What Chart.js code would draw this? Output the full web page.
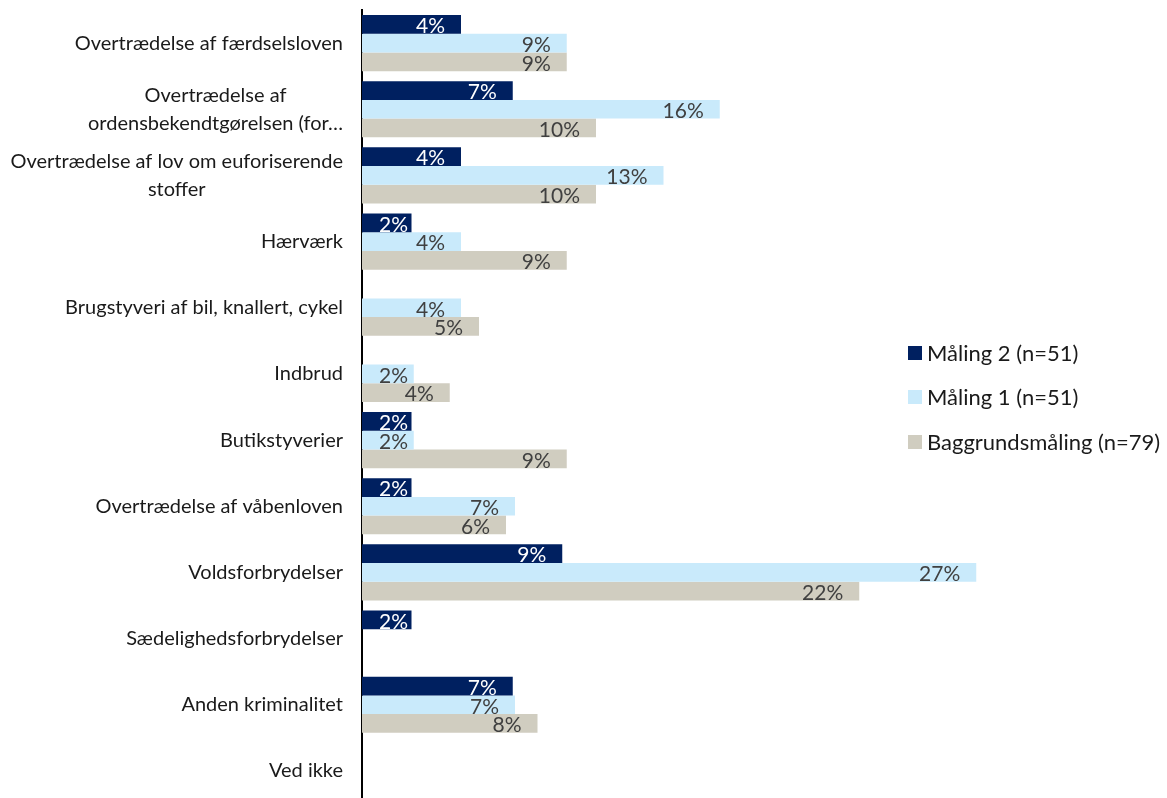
<!DOCTYPE html>
<html lang="da">
<head>
<meta charset="utf-8">
<title>Kriminalitet</title>
<script src="https://cdn.jsdelivr.net/npm/chart.js@4/dist/chart.umd.min.js"></script>
<style>
  html, body { margin: 0; padding: 0; background: #fff; overflow: hidden; }
  #wrap { position: relative; width: 1167px; height: 804px; }
</style>
</head>
<body>
<div id="wrap"><canvas id="chart"></canvas></div>
<script>
const categories = [
    ['Overtrædelse af færdselsloven'],
    ['Overtrædelse af', 'ordensbekendtgørelsen (for…'],
    ['Overtrædelse af lov om euforiserende', 'stoffer'],
    ['Hærværk'],
    ['Brugstyveri af bil, knallert, cykel'],
    ['Indbrud'],
    ['Butikstyverier'],
    ['Overtrædelse af våbenloven'],
    ['Voldsforbrydelser'],
    ['Sædelighedsforbrydelser'],
    ['Anden kriminalitet'],
    ['Ved ikke']
];

const seriesNames = ['Måling 2 (n=51)', 'Måling 1 (n=51)', 'Baggrundsmåling (n=79)'];
const seriesColors = ['#002060', '#C9EAFB', '#D0CDC0'];
const labelColors = ['#ffffff', '#404040', '#404040'];

const maaling2 = [4.4, 6.7, 4.4, 2.2, 0, 0, 2.2, 2.2, 8.9, 2.2, 6.7, 0];
const maaling1 = [9.1, 15.9, 13.4, 4.4, 4.4, 2.3, 2.3, 6.8, 27.3, 0, 6.8, 0];
const baggrund = [9.1, 10.4, 10.4, 9.1, 5.2, 3.9, 9.1, 6.4, 22.1, 0, 7.8, 0];

const FONT = 'Lato, "Liberation Sans", sans-serif';

// category names, drawn right-aligned as a block with centred lines
const categoryLabels = {
    id: 'categoryLabels',
    afterDraw(chart) {
        const { ctx } = chart;
        const y = chart.scales.y;
        const right = y.right - 19;
        const lineH = 28;
        ctx.save();
        ctx.font = `20px ${FONT}`;
        ctx.fillStyle = '#1a1a1a';
        ctx.textAlign = 'center';
        ctx.textBaseline = 'middle';
        chart.data.labels.forEach((lines, i) => {
            const cy = y.getPixelForValue(i);
            const w = Math.max(...lines.map(l => ctx.measureText(l).width));
            const cx = right - w / 2;
            const y0 = cy - (lines.length - 1) * lineH / 2;
            lines.forEach((l, k) => ctx.fillText(l, cx, y0 + k * lineH));
        });
        ctx.restore();
    }
};

// percent labels inside the end of each bar
const valueLabels = {
    id: 'valueLabels',
    afterDatasetsDraw(chart) {
        const { ctx } = chart;
        ctx.save();
        ctx.font = `21px ${FONT}`;
        ctx.textAlign = 'right';
        ctx.textBaseline = 'middle';
        chart.data.datasets.forEach((ds, di) => {
            const meta = chart.getDatasetMeta(di);
            ctx.fillStyle = labelColors[di];
            meta.data.forEach((bar, i) => {
                const v = ds.data[i];
                if (!v) return;
                const txt = Math.round(v) + '%';
                const w = ctx.measureText(txt).width;
                const x = Math.max(bar.x - 16, bar.base + 17 + w);
                ctx.fillText(txt, x, bar.y + 2);
            });
        });
        ctx.restore();
    }
};

// legend floating over the empty right side of the plot
const sideLegend = {
    id: 'sideLegend',
    afterDraw(chart) {
        const { ctx } = chart;
        const x = 908, box = 14, rows = [353, 397, 442];
        ctx.save();
        ctx.font = `22px ${FONT}`;
        ctx.textAlign = 'left';
        ctx.textBaseline = 'middle';
        chart.data.datasets.forEach((ds, i) => {
            ctx.fillStyle = ds.backgroundColor;
            ctx.fillRect(x, rows[i] - box / 2, box, box);
            ctx.fillStyle = '#1a1a1a';
            ctx.fillText(ds.label, x + box + 5, rows[i] + 1);
        });
        ctx.restore();
    }
};

const seriesData = [maaling2, maaling1, baggrund];

new Chart(document.getElementById('chart'), {
    type: 'bar',
    data: {
        labels: categories,
        datasets: seriesData.map((d, i) => ({
            label: seriesNames[i],
            data: d,
            backgroundColor: seriesColors[i],
            borderWidth: 0,
            categoryPercentage: 0.85,
            barPercentage: 1
        }))
    },
    options: {
        indexAxis: 'y',
        responsive: true,
        maintainAspectRatio: false,
        animation: false,
        layout: { padding: { top: 10, right: 130, bottom: 0, left: 0 } },
        plugins: {
            legend: { display: false },
            tooltip: { enabled: false }
        },
        scales: {
            x: { min: 0, max: 30, display: false },
            y: {
                grid: { display: false, drawTicks: false },
                ticks: { display: false },
                border: { display: true, color: '#000', width: 2 },
                afterFit: (scale) => { scale.width = 362; }
            }
        }
    },
    plugins: [valueLabels, categoryLabels, sideLegend]
});
</script>
</body>
</html>
